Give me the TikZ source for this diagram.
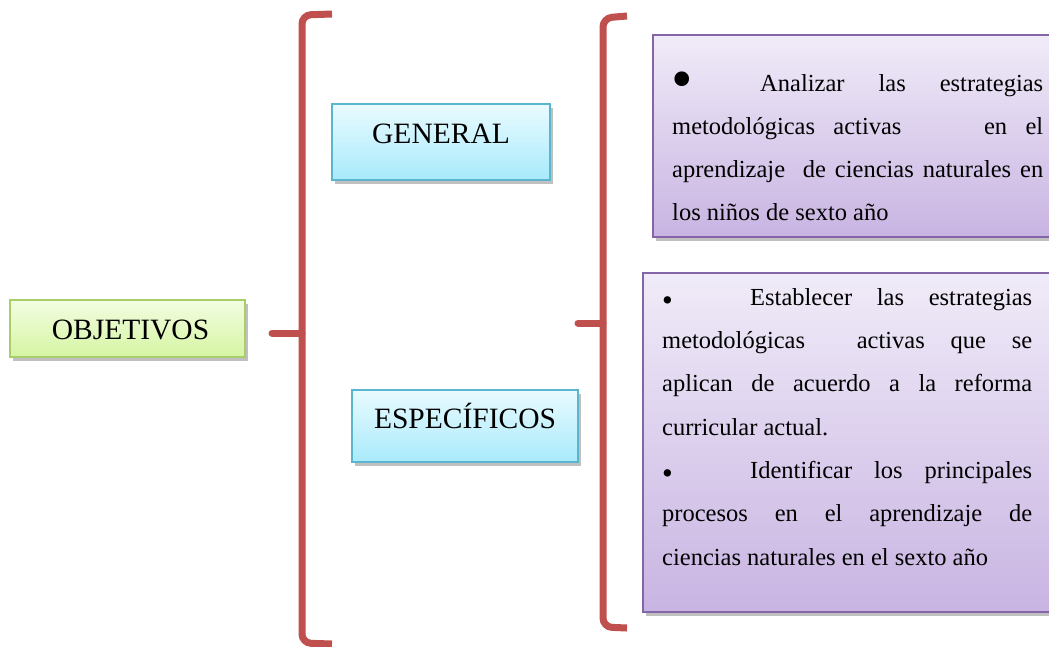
\documentclass[tikz,border=0pt]{standalone}
\usepackage{fontspec}
\setmainfont{Liberation Serif}
\usepackage{graphicx}
\usetikzlibrary{shadows}
\definecolor{bracered}{HTML}{C0504D}
\definecolor{gborder}{HTML}{A9CD6B}
\definecolor{gtop}{HTML}{F3FDE2}
\definecolor{gbot}{HTML}{D5F5A2}
\definecolor{bborder}{HTML}{5BB5CF}
\definecolor{btop}{HTML}{E9FBFF}
\definecolor{bbot}{HTML}{A8EAFB}
\definecolor{pborder}{HTML}{8466A8}
\definecolor{ptop}{HTML}{F0EBF8}
\definecolor{pbot}{HTML}{C8B4E2}
\newcommand\jline[2]{\makebox[#1][s]{#2}}
\newcommand\smallbul{\raisebox{-5.4pt}{\scalebox{1.25}{\textbullet}}}
\newcommand\bigbul{\raisebox{-8pt}{\scalebox{2.5}{\textbullet}}}
\tikzset{
  boxshadow/.style={drop shadow={shadow xshift=2.5pt,shadow yshift=-3.5pt,opacity=0.35,fill=black!70}},
  greenbox/.style={draw=gborder,line width=1.4pt,top color=gtop,bottom color=gbot,boxshadow,inner sep=0pt,font=\fontsize{29.5}{30}\selectfont},
  bluebox/.style={draw=bborder,line width=1.4pt,top color=btop,bottom color=bbot,boxshadow,inner sep=0pt,font=\fontsize{29.5}{30}\selectfont},
  purplebox/.style={draw=pborder,line width=1.4pt,top color=ptop,bottom color=pbot,boxshadow,inner sep=0pt},
  txtline/.style={anchor=base west,inner sep=0pt,font=\fontsize{24.5}{43}\selectfont},
  bracestroke/.style={draw=bracered,line width=7pt,rounded corners=9pt},
  nubstroke/.style={draw=bracered,line width=7pt,line cap=round},
}
\begin{document}
\begin{tikzpicture}[x=1pt,y=-1pt]
\useasboundingbox (0,0) rectangle (1049,646);
\clip (0,0) rectangle (1049,646);
\fill[white] (0,0) rectangle (1049,646);

% boxes
\node[greenbox,minimum width=235pt,minimum height=57pt,text height=21.6pt,text depth=0pt] (obj) at (127.5,328.5) {\hspace{6pt}OBJETIVOS};
\node[bluebox,minimum width=218pt,minimum height=76pt,text height=2.6pt,text depth=0pt] (gen) at (441,142) {GENERAL};
\node[bluebox,minimum width=226pt,minimum height=72pt,text height=4.6pt,text depth=0pt] (esp) at (465,426) {ESPECÍFICOS};

\node[purplebox,minimum width=407pt,minimum height=202pt] (p1) at (856.5,136) {};
\node[purplebox,minimum width=417pt,minimum height=339pt] (p2) at (851.5,442.5) {};

% braces
\coordinate (b1t) at (332,14);
\coordinate (b1tc) at (302,15);
\coordinate (b1bc) at (302,643);
\coordinate (b1b) at (332,644);
\coordinate (b1m) at (302,333);
\coordinate (b1n) at (272,333);
\draw[bracestroke] (b1t) -- (b1tc) -- (b1bc) -- (b1b);
\draw[nubstroke] (b1m) -- (b1n);

\coordinate (b2t) at (627,16);
\coordinate (b2tc) at (603,18);
\coordinate (b2bc) at (603,627);
\coordinate (b2b) at (627,628);
\coordinate (b2m) at (603,323);
\coordinate (b2n) at (578,323);
\draw[bracestroke] (b2t) -- (b2tc) -- (b2bc) -- (b2b);
\draw[nubstroke] (b2m) -- (b2n);

% text of box 1
\node[txtline] (p1a) at (671,91) {\makebox[89pt][l]{\bigbul}\jline{283pt}{Analizar las estrategias}};
\node[txtline] (p1b) at (672,134) {\jline{371pt}{metodológicas\hspace{0pt plus 1fil}activas\hspace{0pt plus 4.5fil}en\hspace{0pt plus 1fil}el}};
\node[txtline] (p1c) at (672,177) {\jline{371pt}{aprendizaje\ \ de ciencias naturales en}};
\node[txtline] (p1d) at (672,220) {los niños de sexto año};

% text of box 2
\node[txtline] (p2a) at (662,305) {\makebox[88pt][l]{\smallbul}\jline{282pt}{Establecer las estrategias}};
\node[txtline] (p2b) at (662,348.3) {\jline{370pt}{metodológicas\ \ activas que se}};
\node[txtline] (p2c) at (662,391.7) {\jline{370pt}{aplican de acuerdo a la reforma}};
\node[txtline] (p2d) at (662,435) {curricular actual.};
\node[txtline] (p2e) at (662,478) {\makebox[88pt][l]{\smallbul}\jline{282pt}{Identificar los principales}};
\node[txtline] (p2f) at (662,521.7) {\jline{370pt}{procesos en el aprendizaje de}};
\node[txtline] (p2g) at (662,565) {ciencias naturales en el sexto año};
\end{tikzpicture}
\end{document}
